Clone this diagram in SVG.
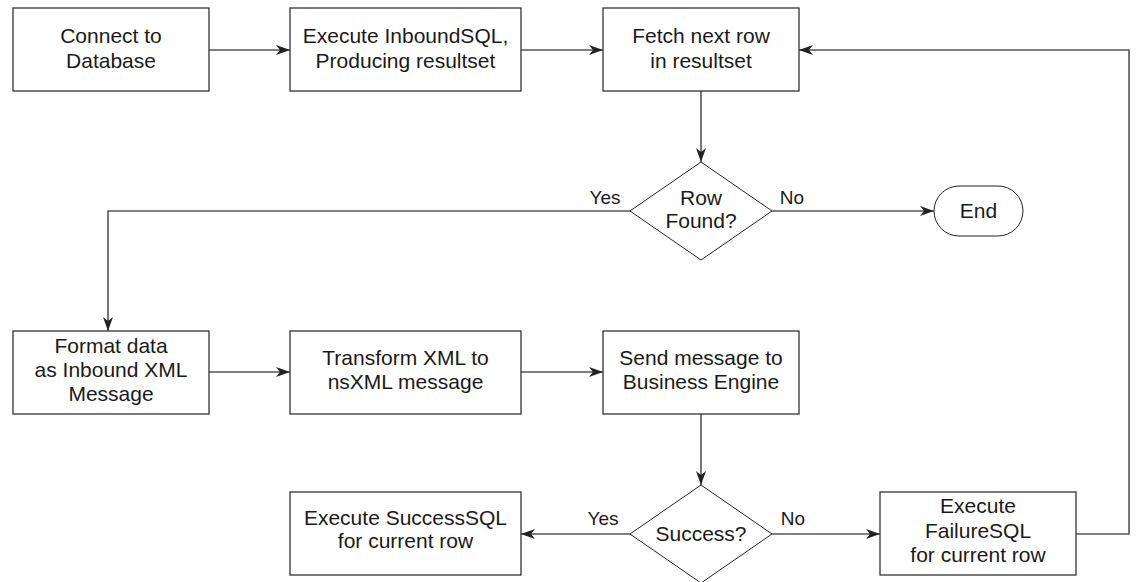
<svg xmlns="http://www.w3.org/2000/svg" width="1136" height="582" viewBox="0 0 1136 582">
<style>
.box{fill:#fff;stroke:#333;stroke-width:1.3}
.dia{fill:#fff;stroke:#222;stroke-width:1}
.ln{fill:none;stroke:#555;stroke-width:1.6}
text{font-family:"Liberation Sans",Arial,sans-serif;font-size:21px;fill:#1a1a1a;text-anchor:middle}
.lbl{font-size:19px}
</style>
<defs>
<marker id="ah" markerUnits="userSpaceOnUse" markerWidth="14" markerHeight="10" refX="14" refY="5" orient="auto">
<path d="M0,0 L14,5 L0,10 L4,5 Z" fill="#222"/>
</marker>
</defs>
<rect width="1136" height="582" fill="#fff"/>
<g id="connectors">
<line class="ln" x1="209" y1="50" x2="290" y2="50" marker-end="url(#ah)"/>
<line class="ln" x1="521" y1="50" x2="603" y2="50" marker-end="url(#ah)"/>
<line class="ln" x1="701" y1="91" x2="701" y2="162" marker-end="url(#ah)"/>
<line class="ln" x1="772" y1="211" x2="934" y2="211" marker-end="url(#ah)"/>
<polyline class="ln" points="630,211 108,211 108,331" marker-end="url(#ah)"/>
<line class="ln" x1="209" y1="372" x2="290" y2="372" marker-end="url(#ah)"/>
<line class="ln" x1="521" y1="372" x2="603" y2="372" marker-end="url(#ah)"/>
<line class="ln" x1="701" y1="414" x2="701" y2="485" marker-end="url(#ah)"/>
<line class="ln" x1="630" y1="534" x2="521" y2="534" marker-end="url(#ah)"/>
<line class="ln" x1="772" y1="534" x2="880" y2="534" marker-end="url(#ah)"/>
<polyline class="ln" points="1076,534 1129,534 1129,50 799,50" marker-end="url(#ah)"/>
<text class="lbl" x="605" y="204">Yes</text>
<text class="lbl" x="792" y="204">No</text>
<text class="lbl" x="603" y="525">Yes</text>
<text class="lbl" x="793" y="525">No</text>
</g>
<g id="connect">
<rect class="box" x="13" y="8" width="196" height="83"/>
<text x="111" y="43">Connect to</text>
<text x="111" y="68">Database</text>
</g>
<g id="inbound">
<rect class="box" x="290" y="8" width="231" height="83"/>
<text x="405.5" y="43">Execute InboundSQL,</text>
<text x="405.5" y="68">Producing resultset</text>
</g>
<g id="fetch">
<rect class="box" x="603" y="8" width="196" height="83"/>
<text x="701" y="43">Fetch next row</text>
<text x="701" y="68">in resultset</text>
</g>
<g id="rowfound">
<polygon class="dia" points="701,162 772,211 701,260 630,211"/>
<text x="701" y="205">Row</text>
<text x="701" y="228">Found?</text>
</g>
<g id="end">
<rect class="dia" x="934" y="186" width="89" height="50" rx="25" ry="25"/>
<text x="978.5" y="218">End</text>
</g>
<g id="format">
<rect class="box" x="13" y="331" width="196" height="83"/>
<text x="111" y="353">Format data</text>
<text x="111" y="377">as Inbound XML</text>
<text x="111" y="401">Message</text>
</g>
<g id="transform">
<rect class="box" x="290" y="331" width="231" height="83"/>
<text x="405.5" y="365">Transform XML to</text>
<text x="405.5" y="389">nsXML message</text>
</g>
<g id="send">
<rect class="box" x="603" y="331" width="196" height="83"/>
<text x="701" y="365">Send message to</text>
<text x="701" y="389">Business Engine</text>
</g>
<g id="success">
<polygon class="dia" points="701,485 772,534 701,583 630,534"/>
<text x="701" y="541">Success?</text>
</g>
<g id="successsql">
<rect class="box" x="290" y="492" width="231" height="83"/>
<text x="405.5" y="525">Execute SuccessSQL</text>
<text x="405.5" y="548">for current row</text>
</g>
<g id="failuresql">
<rect class="box" x="880" y="492" width="196" height="83"/>
<text x="978" y="513">Execute</text>
<text x="978" y="538">FailureSQL</text>
<text x="978" y="562">for current row</text>
</g>
</svg>
